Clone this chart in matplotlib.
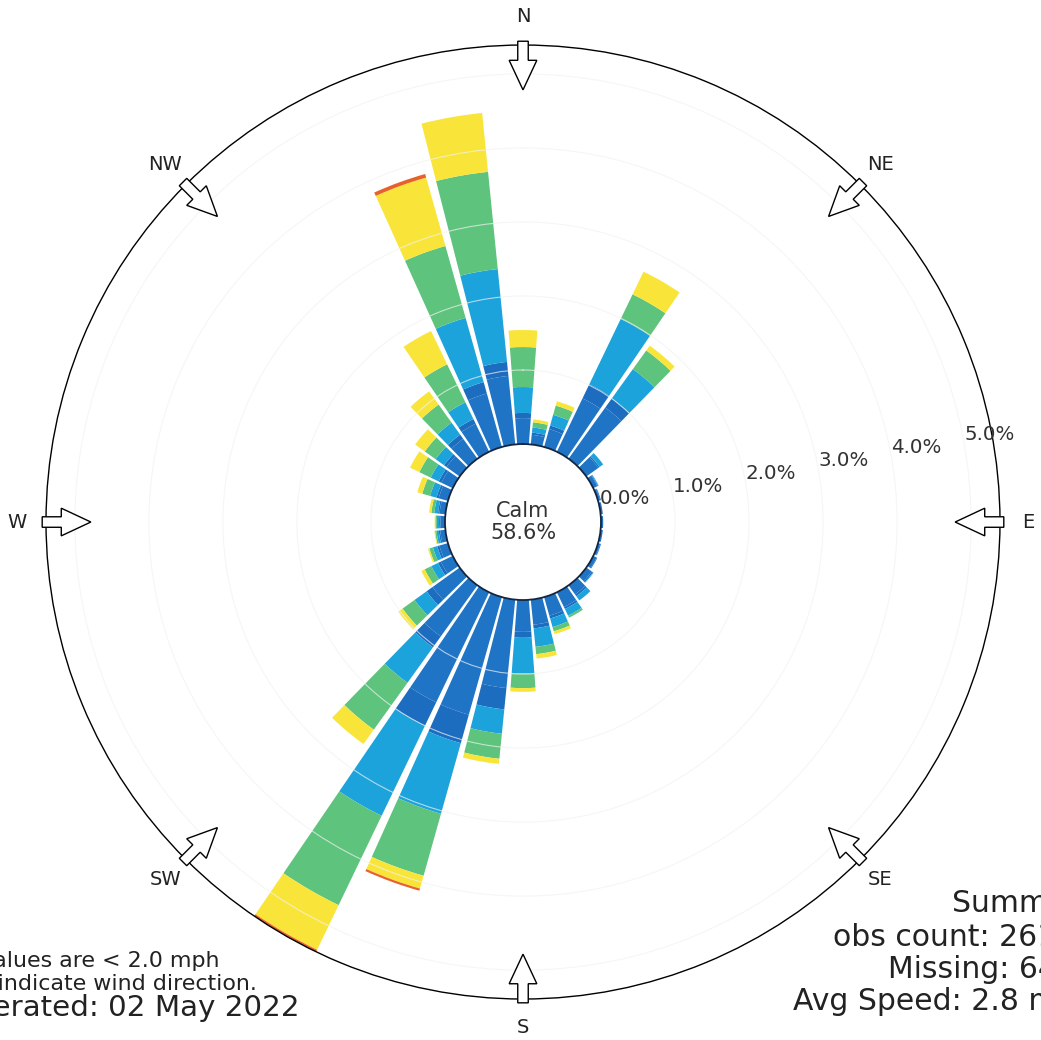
import numpy as np
import matplotlib
matplotlib.use("Agg")
import matplotlib.pyplot as plt
from matplotlib.patches import FancyArrow

# wind direction bins (degrees, from north, clockwise)
directions = np.arange(0, 360, 10)

# frequency (%) per speed class and direction
spd_2_5 = [0.35, 0.13, 0.25, 0.80, 0.85, 0.20, 0.06, 0.03, 0.03, 0.03, 0.03, 0.03,
           0.05, 0.09, 0.15, 0.22, 0.26, 0.34, 0.43, 1.20, 1.65, 1.65, 0.85, 0.45,
           0.18, 0.12, 0.07, 0.06, 0.08, 0.13, 0.17, 0.22, 0.33, 0.42, 0.75, 0.93]
spd_5_7 = [0.07, 0.03, 0.05, 0.21, 0.15, 0.02, 0.01, 0.01, 0.00, 0.00, 0.00, 0.01,
           0.01, 0.02, 0.03, 0.03, 0.04, 0.05, 0.08, 0.29, 0.40, 0.35, 0.18, 0.10,
           0.04, 0.03, 0.02, 0.02, 0.02, 0.03, 0.04, 0.04, 0.07, 0.07, 0.16, 0.19]
spd_7_10 = [0.35, 0.07, 0.15, 0.98, 0.49, 0.06, 0.01, 0.00, 0.00, 0.00, 0.00, 0.00,
            0.00, 0.01, 0.07, 0.10, 0.12, 0.25, 0.48, 0.33, 0.99, 1.35, 0.59, 0.20,
            0.10, 0.06, 0.03, 0.03, 0.05, 0.09, 0.12, 0.14, 0.20, 0.25, 0.90, 1.26]
spd_10_15 = [0.54, 0.07, 0.13, 0.37, 0.31, 0.00, 0.00, 0.00, 0.00, 0.00, 0.00, 0.00,
             0.00, 0.00, 0.00, 0.03, 0.06, 0.10, 0.20, 0.34, 0.87, 1.34, 0.78, 0.20,
             0.10, 0.05, 0.02, 0.02, 0.04, 0.11, 0.17, 0.18, 0.30, 0.57, 1.01, 1.32]
spd_15_20 = [0.23, 0.04, 0.06, 0.34, 0.08, 0.00, 0.00, 0.00, 0.00, 0.00, 0.00, 0.00,
             0.00, 0.00, 0.00, 0.00, 0.04, 0.06, 0.05, 0.07, 0.18, 0.67, 0.24, 0.07,
             0.05, 0.02, 0.01, 0.01, 0.03, 0.07, 0.14, 0.16, 0.22, 0.50, 0.96, 0.80]
spd_20p = [0.00, 0.00, 0.00, 0.00, 0.00, 0.00, 0.00, 0.00, 0.00, 0.00, 0.00, 0.00,
           0.00, 0.00, 0.00, 0.00, 0.00, 0.00, 0.00, 0.00, 0.03, 0.03, 0.00, 0.00,
           0.00, 0.00, 0.00, 0.00, 0.00, 0.00, 0.00, 0.00, 0.00, 0.00, 0.05, 0.00]

classes = [spd_2_5, spd_5_7, spd_7_10, spd_10_15, spd_15_20, spd_20p]
colors = ['#1f74c6', '#1c6cc0', '#1ca3dc', '#5ec37c', '#f9e53a', '#e8602a']

calm_pct = 58.6
rticks = [0, 1, 2, 3, 4, 5]
compass = ['N', 'NE', 'E', 'SE', 'S', 'SW', 'W', 'NW']

fig = plt.figure(figsize=(10.41, 10.40), dpi=100)
ax = fig.add_axes([0.0442, 0.0394, 0.9164, 0.9173], projection='polar')
ax.set_theta_zero_location('N')
ax.set_theta_direction(-1)

theta = np.deg2rad(directions)
width = np.deg2rad(8.6)
bottom = np.zeros(len(directions))
for vals, col in zip(classes, colors):
    vals = np.array(vals)
    ax.bar(theta, vals, width=width, bottom=bottom, color=col,
           edgecolor='none', linewidth=0, zorder=1)
    bottom = bottom + vals

rmax = bottom.max()
ax.set_ylim(0, rmax)
ax.set_rorigin(-rmax * 0.1955)

ax.set_xticks([])
ax.set_yticks(rticks[1:])
ax.set_yticklabels([])
ax.yaxis.grid(True, color='#f2f2f2', lw=0.8, alpha=0.7)
ax.set_axisbelow(False)
ax.spines['polar'].set_color('black')
ax.spines['polar'].set_linewidth(1.0)
ax.spines['inner'].set_color('#14263f')
ax.spines['inner'].set_linewidth(1.3)

for r in rticks:
    ax.text(np.deg2rad(80), r, "%.1f%%" % r, ha='left', va='bottom',
            fontsize=14.3, color='#333333')

ax.text(0, -rmax * 0.1955, "Calm\n%.1f%%" % calm_pct, ha='center', va='center',
        fontsize=15, color='#333333', linespacing=1.1)

# compass labels and inward arrows
for i, lab in enumerate(compass):
    ang = np.deg2rad(i * 45)
    sx, sy = np.sin(ang), np.cos(ang)
    ax.text(0.5 + 0.530 * sx, 0.5 + 0.530 * sy, lab, transform=ax.transAxes,
            ha='center', va='center', fontsize=14, color='#222222')
    r0, r1 = 0.504, 0.453
    arr = FancyArrow(0.5 + r0 * sx, 0.5 + r0 * sy, (r1 - r0) * sx, (r1 - r0) * sy,
                     width=0.011, head_width=0.029, head_length=0.031,
                     length_includes_head=True, transform=ax.transAxes,
                     fc='white', ec='black', lw=1.0, clip_on=False, zorder=5)
    ax.add_patch(arr)

# footer texts (the reference crop cuts them at the canvas edge)
W, H = 1041.0, 1040.0
fig.text(220 / W, 1 - 967 / H, "Calm values are < 2.0 mph", ha='right',
         va='baseline', fontsize=15.9, color='#222222')
fig.text(257 / W, 1 - 990 / H, "Arrows indicate wind direction.", ha='right',
         va='baseline', fontsize=15.9, color='#222222')
fig.text(300 / W, 1 - 1016 / H, "Generated: 02 May 2022", ha='right',
         va='baseline', fontsize=21.2, color='#222222')

summary_lines = ["Summary", "obs count: 2616", "Missing: 64", "Avg Speed: 2.8 mph"]
summary_x = [952, 833, 888, 793]
summary_y = [912, 946, 978, 1010]
for s, x, y in zip(summary_lines, summary_x, summary_y):
    fig.text(x / W, 1 - y / H, s, ha='left', va='baseline', fontsize=21.5,
             color='#222222')

fig.savefig('out.png', dpi=100, facecolor='white')
